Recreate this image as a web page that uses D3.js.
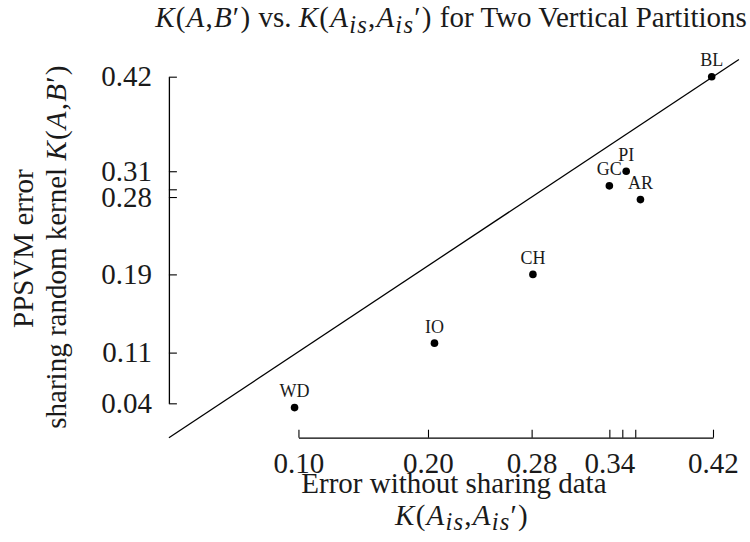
<!DOCTYPE html>
<html><head><meta charset="utf-8">
<script src="https://cdn.jsdelivr.net/npm/d3@7"></script>
<style>
body{margin:0;background:#fff}
svg{display:block}
text{font-family:"Liberation Serif","Times New Roman",serif;fill:#1a1a1a;white-space:pre}
</style>
</head><body>
<svg id="chart" width="750" height="542" font-family="Liberation Serif"></svg>
<script>
// ---- data ----
const datasets     = ["WD", "IO", "CH", "GC", "PI", "AR", "BL"];
const errorWithout = [0.097, 0.205, 0.281, 0.340, 0.353, 0.364, 0.419]; // K(A_is, A_is')
const errorPPSVM   = [0.035, 0.110, 0.190, 0.293, 0.310, 0.277, 0.420]; // K(A, B')
const xTickValues  = [0.10, 0.20, 0.28, 0.34, 0.35, 0.36, 0.42];
const xTickLabels  = ["0.10", "0.20", "0.28", "0.34", "", "", "0.42"];
const yTickValues  = [0.04, 0.099, 0.19, 0.28, 0.289, 0.31, 0.42];
const yTickLabels  = ["0.04", "0.11", "0.19", "0.28", "", "0.31", "0.42"];
const refLine      = [0, 0.44]; // y = x diagonal

(function () {
// ---- layout ----
const pLeft = 168.9, pRight = 738.9, pTop = 59.5, pBottom = 437.7;
const FS = 29;
const SERIF = "Liberation Serif";

const svg = d3.select("#chart");
const x = d3.scaleLinear().domain([0, 0.44]).range([pLeft, pRight]);
const y = d3.scaleLinear().domain([0, 0.44]).range([pBottom, pTop]);

// rich text helper: "i" italic math, "m" upright math, "sub" italic subscript, "" plain
function rich(textSel, parts, fs) {
  let shift = 0;
  parts.forEach(([t, k]) => {
    const ts = textSel.append("tspan").text(t);
    let target = 0;
    if (k === "i") ts.attr("font-style", "italic").attr("letter-spacing", 1.2);
    if (k === "m") ts.attr("letter-spacing", 1.2);
    if (k === "sub") {
      ts.attr("font-style", "italic").attr("font-size", fs * 0.85).attr("letter-spacing", 1.2);
      target = fs * 0.2;
    }
    if (target !== shift) { ts.attr("dy", target - shift); shift = target; }
  });
}

// range-frame axes
const xAxisScale = x.copy().domain([xTickValues[0], xTickValues[xTickValues.length - 1]])
  .range([x(xTickValues[0]), x(xTickValues[xTickValues.length - 1])]);
const yAxisScale = y.copy().domain([yTickValues[0], yTickValues[yTickValues.length - 1]])
  .range([y(yTickValues[0]), y(yTickValues[yTickValues.length - 1])]);

const gx = svg.append("g").attr("transform", `translate(0,${y(0)})`)
  .call(d3.axisBottom(xAxisScale).tickValues(xTickValues)
    .tickFormat((d, i) => xTickLabels[i]).tickSizeInner(-8).tickSizeOuter(0).tickPadding(14.5));
const gy = svg.append("g").attr("transform", `translate(${x(0)},0)`)
  .call(d3.axisLeft(yAxisScale).tickValues(yTickValues)
    .tickFormat((d, i) => yTickLabels[i]).tickSizeInner(-8).tickSizeOuter(0).tickPadding(17));
[gx, gy].forEach(g => {
  g.attr("font-family", SERIF);
  g.selectAll("path.domain").attr("stroke", "#000").attr("stroke-width", 1.3);
  g.selectAll(".tick line").attr("stroke", "#000").attr("stroke-width", 1.1);
  g.selectAll(".tick text").attr("font-size", FS).attr("font-family", SERIF).attr("fill", "#1a1a1a");
});

// diagonal reference line
svg.append("line")
  .attr("x1", x(refLine[0])).attr("y1", y(refLine[0]))
  .attr("x2", x(refLine[1])).attr("y2", y(refLine[1]))
  .attr("stroke", "#000").attr("stroke-width", 1.3);

// points
const pts = datasets.map((n, i) => ({ n, x: errorWithout[i], y: errorPPSVM[i] }));
svg.selectAll("circle.pt").data(pts).join("circle").attr("class", "pt")
  .attr("cx", d => x(d.x)).attr("cy", d => y(d.y)).attr("r", 3.8).attr("fill", "#000");
svg.selectAll("text.lbl").data(pts).join("text").attr("class", "lbl")
  .attr("x", d => x(d.x)).attr("y", d => y(d.y) - 10.5)
  .attr("text-anchor", "middle").attr("font-size", 18).attr("font-family", SERIF).text(d => d.n);

// title
const title = svg.append("text").attr("x", 451).attr("y", 27)
  .attr("text-anchor", "middle").attr("font-size", FS).attr("font-family", SERIF);
rich(title, [["K","i"],["(","m"],["A","i"],[",","m"],["B","i"],["′","m"],[")","m"],[" vs. ",""],
  ["K","i"],["(","m"],["A","i"],["is","sub"],[",","m"],["A","i"],["is","sub"],["′","m"],[")","m"],
  [" for Two Vertical Partitions",""]], FS);

// x-axis title
svg.append("text").attr("x", (pLeft + pRight) / 2).attr("y", 493)
  .attr("text-anchor", "middle").attr("font-size", FS).attr("font-family", SERIF)
  .text("Error without sharing data");
const xt2 = svg.append("text").attr("x", 462).attr("y", 524.5)
  .attr("text-anchor", "middle").attr("font-size", FS).attr("font-family", SERIF);
rich(xt2, [["K","i"],["(","m"],["A","i"],["is","sub"],[",","m"],["A","i"],["is","sub"],["′","m"],[")","m"]], FS);

// y-axis title
const yc = (pTop + pBottom) / 2;
svg.append("text").attr("transform", `translate(32.5,${yc}) rotate(-90)`)
  .attr("text-anchor", "middle").attr("font-size", FS).attr("font-family", SERIF).text("PPSVM error");
const yt2 = svg.append("text").attr("transform", `translate(66,${yc - 2}) rotate(-90)`)
  .attr("text-anchor", "middle").attr("font-size", FS).attr("font-family", SERIF);
rich(yt2, [["sharing random kernel ",""],["K","i"],["(","m"],["A","i"],[",","m"],["B","i"],["′","m"],[")","m"]], FS);
})();
</script>
</body></html>
